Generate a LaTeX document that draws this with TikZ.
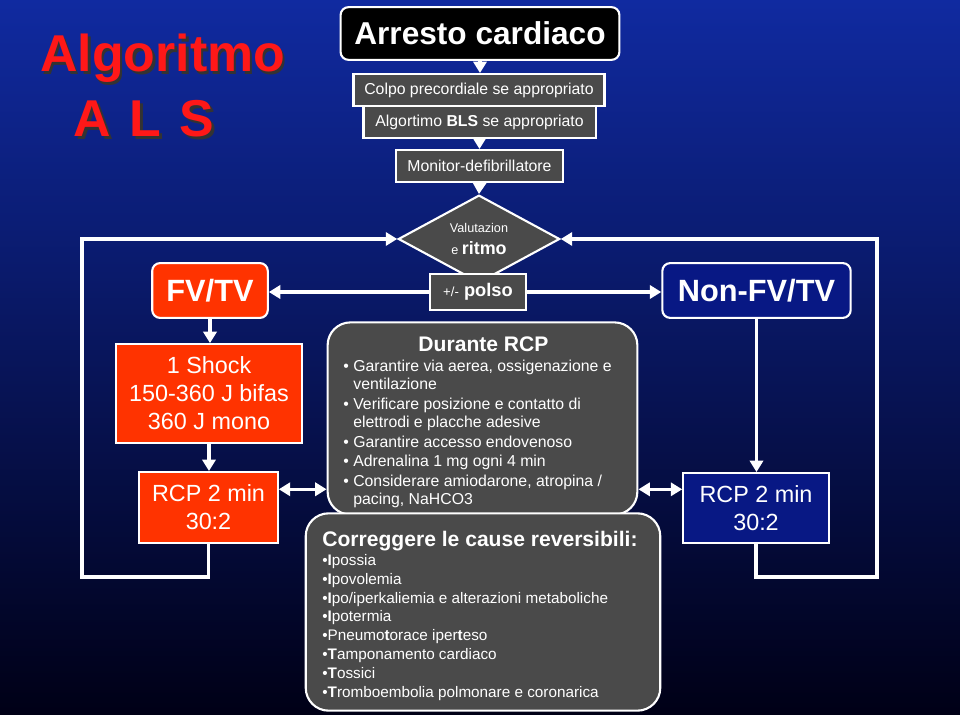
\documentclass[tikz,border=0pt]{standalone}
\usepackage{fontspec}
\setmainfont{Liberation Sans}
\usetikzlibrary{shapes.geometric, arrows.meta, positioning, calc}
\definecolor{alsrosso}{RGB}{255, 51, 0}
\definecolor{alsgrigio}{RGB}{74, 74, 74}
\definecolor{alsblu}{RGB}{8, 24, 132}
\definecolor{alstitolo}{RGB}{255, 24, 24}
\definecolor{sfondoalto}{RGB}{16, 42, 160}
\definecolor{sfondomedio}{RGB}{4, 20, 106}
\definecolor{sfondobasso}{RGB}{0, 0, 22}

\begin{document}
\begin{tikzpicture}[x=0.02cm, y=-0.02cm,
    freccia/.style={white, line width=2pt, -{Triangle[length=6.5pt, width=7.5pt]}},
    doppia/.style={white, line width=2pt, {Triangle[length=6.5pt, width=7.5pt]}-{Triangle[length=6.5pt, width=7.5pt]}},
    scatola/.style={draw=white, line width=1.2pt, text=white, inner sep=0pt, align=center},
    grigia/.style={scatola, fill=alsgrigio, font=\fontsize{9}{11}\selectfont},
    rossa/.style={scatola, fill=alsrosso, font=\fontsize{13.3}{16}\selectfont},
    blu/.style={scatola, fill=alsblu, font=\fontsize{13.3}{16}\selectfont},
    lista/.style={text=white, inner sep=0pt, align=left}]
    \useasboundingbox (0,0) rectangle (960,715);

    % Sfondo
    \shade[top color=sfondoalto, middle color=sfondomedio, bottom color=sfondobasso] (0,0) rectangle (960,715);

    % Titolo
    \node[lista, anchor=north west, text=black!80, font=\fontsize{29.5}{37}\selectfont\bfseries] (titoloombra) at (42.5,36.5) {Algoritmo\\\hspace*{19pt}A\hspace{10.5pt}L\hspace{10.5pt}S};
    \node[lista, anchor=north west, text=alstitolo, font=\fontsize{29.5}{37}\selectfont\bfseries] (titolo) at (40,34) {Algoritmo\\\hspace*{19pt}A\hspace{10.5pt}L\hspace{10.5pt}S};

    % Colonna centrale
    \node[scatola, fill=black, rounded corners=4.5pt, minimum width=158.7pt, minimum height=30pt, font=\fontsize{18}{20}\selectfont\bfseries] (arresto) at (480,33.5) {Arresto cardiaco};
    \node[grigia, minimum width=142.9pt, minimum height=18.1pt] (colpo) at (479,90) {Colpo precordiale se appropriato};
    \node[grigia, minimum width=132.1pt, minimum height=18.1pt] (bls) at (479.5,122) {Algortimo \textbf{BLS} se appropriato};
    \node[grigia, minimum width=94.7pt, minimum height=18.1pt] (monitor) at (479.5,166) {Monitor-defibrillatore};
    \node[scatola, diamond, aspect=1.84, fill=alsgrigio, minimum width=91.9pt, minimum height=49.9pt, font=\fontsize{7.2}{9}\selectfont] (valutazione) at (479,239) {Valutazion\\[3pt]e {\fontsize{10.2}{12}\selectfont\bfseries ritmo}};
    \node[grigia, minimum width=54.4pt, minimum height=20.4pt, font=\fontsize{10.4}{12}\selectfont\bfseries] (polso) at (478,292) {{\fontsize{7.5}{9}\selectfont\mdseries +/-} polso};

    % Rami
    \node[scatola, fill=alsrosso, rounded corners=4.5pt, minimum width=65.8pt, minimum height=31.2pt, font=\fontsize{17.5}{20}\selectfont\bfseries] (fvtv) at (210,290.5) {FV/TV};
    \node[scatola, fill=alsblu, rounded corners=4.5pt, minimum width=107.2pt, minimum height=31.2pt, font=\fontsize{17.5}{20}\selectfont\bfseries] (nonfv) at (756.5,290.5) {Non-FV/TV};
    \node[rossa, minimum width=105.5pt, minimum height=56.1pt] (shock) at (209,393.5) {1 Shock\\150-360 J bifas\\360 J mono};
    \node[rossa, minimum width=78.8pt, minimum height=40.3pt] (rcpsx) at (208.5,507.5) {RCP 2 min\\30:2};
    \node[blu, minimum width=82.8pt, minimum height=39.7pt] (rcpdx) at (756,508) {RCP 2 min\\30:2};

    % Durante RCP
    \node[scatola, fill=alsgrigio, rounded corners=13pt, minimum width=176.3pt, minimum height=109.4pt] (durante) at (482.5,418.5) {};
    \node[lista, anchor=base, font=\fontsize{12}{14}\selectfont\bfseries] (durantetit) at (483.5,352) {Durante RCP};
    \node[lista, anchor=north west, font=\fontsize{9}{10.3}\selectfont] (durantelist) at (343,360) {%
        \textbullet\ Garantire via aerea, ossigenazione e\\\hspace*{5.7pt}ventilazione\\[0.8pt]
        \textbullet\ Verificare posizione e contatto di\\\hspace*{5.7pt}elettrodi e placche adesive\\[0.8pt]
        \textbullet\ Garantire accesso endovenoso\\[0.8pt]
        \textbullet\ Adrenalina 1 mg ogni 4 min\\[0.8pt]
        \textbullet\ Considerare amiodarone, atropina /\\\hspace*{5.7pt}pacing, NaHCO3};

    % Cause reversibili
    \node[scatola, fill=alsgrigio, rounded corners=13pt, minimum width=201.8pt, minimum height=112.3pt] (cause) at (483,612) {};
    \node[lista, anchor=base west, font=\fontsize{12}{14}\selectfont\bfseries] (causetit) at (322,547) {Correggere le cause reversibili:};
    \node[lista, anchor=north west, font=\fontsize{8.7}{10.7}\selectfont] (causelist) at (322,554) {%
        \textbullet\textbf{I}possia\\
        \textbullet\textbf{I}povolemia\\
        \textbullet\textbf{I}po/iperkaliemia e alterazioni metaboliche\\
        \textbullet\textbf{I}potermia\\
        \textbullet Pneumo\textbf{t}orace iper\textbf{t}eso\\
        \textbullet\textbf{T}amponamento cardiaco\\
        \textbullet\textbf{T}ossici\\
        \textbullet\textbf{T}romboembolia polmonare e coronarica};

    % Frecce
    \draw[freccia] (arresto.south) -- (arresto.south |- colpo.north);
    \draw[freccia] (bls.south) -- (bls.south |- monitor.north);
    \draw[freccia] (monitor.south) -- (valutazione.north);
    \draw[freccia] (polso.west) -- (polso.west -| fvtv.east);
    \draw[freccia] (polso.east) -- (polso.east -| nonfv.west);
    \draw[freccia] (fvtv.south) -- (fvtv.south |- shock.north);
    \draw[freccia] (shock.south) -- (shock.south |- rcpsx.north);
    \draw[freccia] (nonfv.south) -- (nonfv.south |- rcpdx.north);

    % Cicli
    \coordinate (angolosx) at (82,577);
    \coordinate (angolodx) at (877,577);
    \draw[freccia] (rcpsx.south) |- (angolosx) |- (valutazione.west);
    \draw[freccia] (rcpdx.south) |- (angolodx) |- (valutazione.east);

    % RCP <-> Durante RCP
    \coordinate (cprsx) at ($(rcpsx.north east)!0.25!(rcpsx.south east)$);
    \coordinate (cprdx) at ($(rcpdx.north west)!0.24!(rcpdx.south west)$);
    \draw[doppia] (cprsx) -- (cprsx -| durante.west);
    \draw[doppia] (cprdx -| durante.east) -- (cprdx);

\end{tikzpicture}
\end{document}
